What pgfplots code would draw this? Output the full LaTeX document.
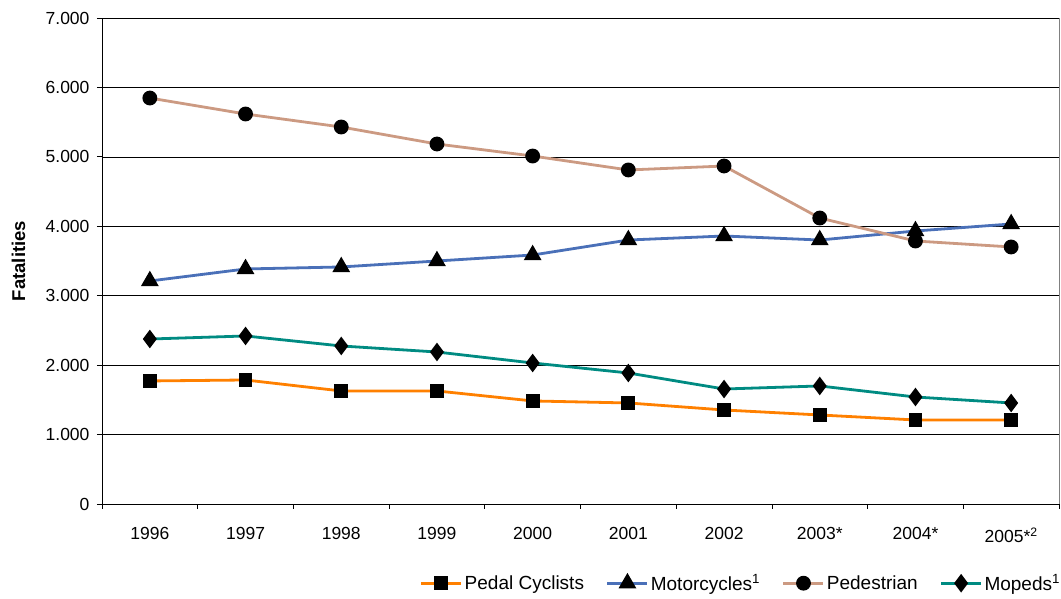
\documentclass[border=0pt]{standalone}
\usepackage{pgfplots}
\pgfplotsset{compat=1.18}
\usepackage{fontspec}
\setmainfont{Liberation Sans}
\definecolor{cped}{HTML}{FF8000}
\definecolor{cmoto}{HTML}{4A70B8}
\definecolor{cwalk}{HTML}{CC9A82}
\definecolor{cmoped}{HTML}{008B82}
\begin{document}
\begin{tikzpicture}[x=1pt,y=1pt]
\begin{axis}[
  scale only axis, width=957pt, height=486pt,
  xmin=-0.5, xmax=9.5, ymin=0, ymax=7000,
  axis x line*=bottom, axis y line*=left,
  axis line style={black, line width=0.8pt},
  xtick={-0.5,0.5,...,9.5}, xticklabels={},
  extra x ticks={0,...,9},
  extra x tick labels={1996,1997,1998,1999,2000,2001,2002,2003*,2004*,2005*\textsuperscript{2}},
  extra x tick style={major tick length=0pt, tick label style={yshift=-20pt, font=\fontsize{17.5}{19}\selectfont}, grid=none},
  tick align=outside, major tick length=5pt,
  tick style={black, line width=0.8pt},
  ytick={0,1000,...,7000},
  ymajorgrids, grid style={black, line width=0.6pt},
  /pgf/number format/.cd, 1000 sep={.}, assume math mode=true,
  /pgfplots/.cd,
  yticklabel style={font=\fontsize{17.5}{19}\selectfont, xshift=-4pt},
  ylabel={\textbf{Fatalities}},
  ylabel style={font=\fontsize{18.5}{20}\selectfont, at={(rel axis cs:0,0.5)}, anchor=center, yshift=83.5pt},
  legend columns=4,
  legend style={draw=none, fill=none, font=\fontsize{19}{21}\selectfont, at={(rel axis cs:0.332,-0.163)}, anchor=west, inner xsep=0pt, /tikz/every even column/.append style={column sep=20pt}},
  legend image code/.code={\draw[#1] (0pt,0pt) -- (20pt,0pt) plot coordinates {(20pt,0pt)} -- (40pt,0pt);},
  every axis plot/.append style={line width=2.8pt, mark options={fill=black, draw=black, solid}},
  clip=false,
]
\addplot[cped, mark=square*, mark size=5.5pt] coordinates {(0,1772)(1,1786)(2,1628)(3,1628)(4,1484)(5,1455)(6,1354)(7,1282)(8,1210)(9,1210)};
\addlegendentry{Pedal Cyclists}
\addplot[cmoto, mark=triangle*, mark size=7.5pt] coordinates {(0,3212)(1,3385)(2,3414)(3,3500)(4,3586)(5,3802)(6,3860)(7,3802)(8,3932)(9,4033)};
\addlegendentry{Motorcycles\textsuperscript{1}}
\addplot[cwalk, mark=*, mark size=6pt] coordinates {(0,5847)(1,5617)(2,5430)(3,5185)(4,5012)(5,4811)(6,4868)(7,4119)(8,3788)(9,3702)};
\addlegendentry{Pedestrian}
\addplot[cmoped, mark=diamond*, mark size=7pt] coordinates {(0,2376)(1,2420)(2,2276)(3,2189)(4,2031)(5,1887)(6,1656)(7,1700)(8,1541)(9,1455)};
\addlegendentry{Mopeds\textsuperscript{1}}
\coordinate (ll) at (rel axis cs:0,0);
\coordinate (ur) at (rel axis cs:1,1);
\draw[gray, line width=0.8pt] (rel axis cs:1,0) -- (rel axis cs:1,1);
\end{axis}
\pgfresetboundingbox
\path ([shift={(-102pt,-95pt)}]ll) rectangle ([shift={(2pt,18pt)}]ur);
\end{tikzpicture}
\end{document}
